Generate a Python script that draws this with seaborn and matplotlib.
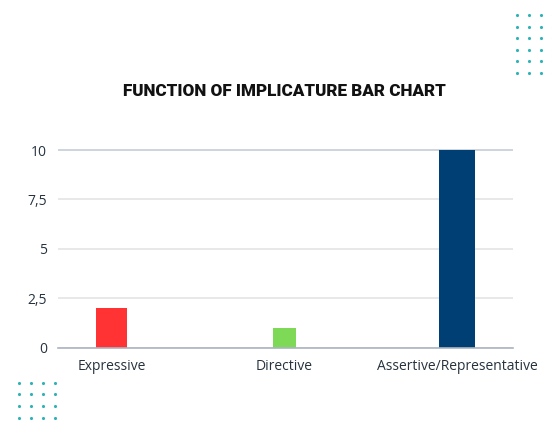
import numpy as np
import pandas as pd
import matplotlib
matplotlib.use("Agg")
import matplotlib.pyplot as plt
import seaborn as sns

# ---- data ----
categories = ["Expressive", "Directive", "Assertive/Representative"]
values = [2, 1, 10]
ytick_values = [0, 2.5, 5, 7.5, 10]
ytick_labels = ["0", "2,5", "5", "7,5", "10"]
title = "FUNCTION OF IMPLICATURE BAR CHART"

# ---- style ----
bar_colors = ["#ff3333", "#7ed957", "#003f73"]
bar_widths = [0.179, 0.133, 0.208]
text_color = "#26333f"
grid_color = "#e6e6e6"
top_grid_color = "#c9d1d9"
base_color = "#aab5c1"
dot_color = "#2bb3b6"

sns.set_theme(style="white")
plt.rcParams["font.family"] = ["Open Sans", "DejaVu Sans"]

W, H = 552, 421
fig = plt.figure(figsize=(W / 100, H / 100), dpi=100)
fig.patch.set_facecolor("white")

ymax = 10.2
left, right = 58, 512.7
base_y = 347.5
top_y = base_y - 197.5 * ymax / 10
ax = fig.add_axes([left / W, (H - base_y) / H, (right - left) / W, (base_y - top_y) / H])

df = pd.DataFrame({"category": categories, "value": values})
sns.barplot(data=df, x="category", y="value", hue="category",
            palette=bar_colors, legend=False, ax=ax, width=0.2,
            saturation=1, linewidth=0)

patches = sorted(ax.patches, key=lambda p: p.get_x())
for p, w in zip(patches, bar_widths):
    c = p.get_x() + p.get_width() / 2
    p.set_x(c - w / 2)
    p.set_width(w)

ax.set_xlim(-0.31, len(categories) - 1 + 0.32)
ax.set_ylim(0, ymax)
ax.set_yticks(ytick_values)
ax.set_yticklabels(ytick_labels)
ax.set_xlabel("")
ax.set_ylabel("")
ax.grid(axis="y", color=grid_color, linewidth=1.3)
ax.set_axisbelow(True)
gls = ax.yaxis.get_gridlines()
gls[-1].set_color(top_grid_color)
for s in ["top", "right", "left"]:
    ax.spines[s].set_visible(False)
ax.spines["bottom"].set_color(base_color)
ax.spines["bottom"].set_linewidth(1.2)
ax.tick_params(axis="both", length=0, colors=text_color, labelsize=10)
ax.tick_params(axis="y", pad=8)
ax.tick_params(axis="x", pad=8)

fig.text(284 / W, (H - 91) / H, title, ha="center", va="center",
         fontsize=12.3, fontweight="black", color="#111111",
         family=["Roboto", "DejaVu Sans"])

# decorative dot grids
gx, gy = np.meshgrid(np.arange(4), np.arange(6))
dots_tr_x = (516.7 + 12 * gx.ravel()) / W
dots_tr_y = (H - (15 + 11.6 * gy.ravel())) / H
gx2, gy2 = np.meshgrid(np.arange(4), np.arange(4))
dots_bl_x = (18.7 + 12 * gx2.ravel()) / W
dots_bl_y = (H - (382.7 + 11.7 * gy2.ravel())) / H
dax = fig.add_axes([0, 0, 1, 1], zorder=-1)
dax.set_xlim(0, 1)
dax.set_ylim(0, 1)
dax.axis("off")
dax.scatter(np.r_[dots_tr_x, dots_bl_x], np.r_[dots_tr_y, dots_bl_y],
            s=5, color=dot_color, linewidths=0)

fig.savefig("out.png", dpi=100, facecolor="white")
